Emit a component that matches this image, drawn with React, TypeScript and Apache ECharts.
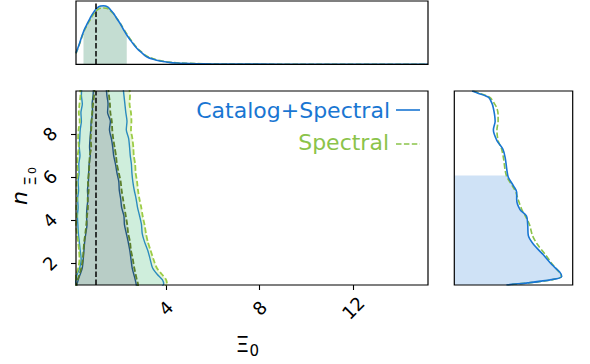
import React, { useEffect, useRef } from 'react';
import * as echarts from 'echarts';

// ---------------- data ----------------
// 1D marginal of Xi_0 (top panel)
const XI_GRID = [0.15, 0.3, 0.47, 0.6, 0.75, 0.9, 1.04, 1.2, 1.32, 1.45, 1.53, 1.65, 1.75, 1.9, 2.03, 2.18, 2.32, 2.5, 2.75, 3.0, 3.17, 3.45, 3.74, 4.1, 4.46, 5.0, 5.59, 6.5, 8, 10, 12, 15.2];
const XI_PDF_CATSPEC = [0.18, 0.33, 0.515, 0.62, 0.727, 0.82, 0.885, 0.92, 0.926, 0.915, 0.9, 0.85, 0.806, 0.72, 0.648, 0.55, 0.463, 0.37, 0.253, 0.17, 0.12, 0.08, 0.052, 0.032, 0.02, 0.013, 0.008, 0.004, 0.002, 0.001, 0.0005, 0];
const XI_PDF_SPEC = [0.17, 0.32, 0.5, 0.6, 0.7, 0.79, 0.85, 0.885, 0.89, 0.885, 0.875, 0.835, 0.8, 0.725, 0.655, 0.565, 0.48, 0.385, 0.265, 0.18, 0.13, 0.088, 0.058, 0.036, 0.024, 0.015, 0.009, 0.005, 0.002, 0.001, 0.0005, 0];
const XI_CI = [0.47, 2.35];
const XI_TRUTH = 1.0;

// 1D marginal of n (right panel)
const N_MARG_GRID = [10.0, 9.9, 9.7, 9.4, 9.2, 8.9, 8.6, 8.2, 7.7, 7.3, 6.9, 6.3, 6.0, 5.6, 5.3, 4.95, 4.5, 4.2, 3.8, 3.3, 2.9, 2.4, 1.95, 1.6, 1.4, 1.25, 1.1, 1.03, 1.0];
const N_PDF_CATSPEC = [0.15, 0.2, 0.29, 0.32, 0.33, 0.34, 0.345, 0.33, 0.36, 0.41, 0.43, 0.445, 0.456, 0.5, 0.527, 0.527, 0.555, 0.61, 0.62, 0.625, 0.667, 0.752, 0.823, 0.89, 0.907, 0.82, 0.62, 0.48, 0.44];
const N_PDF_SPEC = [0.16, 0.21, 0.3, 0.34, 0.36, 0.37, 0.37, 0.36, 0.37, 0.4, 0.415, 0.43, 0.445, 0.49, 0.52, 0.54, 0.57, 0.6, 0.635, 0.66, 0.7, 0.77, 0.83, 0.885, 0.905, 0.83, 0.63, 0.49, 0.45];
const N_CI = [1.0, 6.08];

// 2D contours (Xi_0 position of each contour edge at given n)
const N_CONTOUR = [10.2, 9.8, 9.4, 9.0, 8.6, 8.2, 7.8, 7.4, 7.0, 6.6, 6.2, 5.8, 5.4, 5.0, 4.6, 4.2, 3.8, 3.4, 3.0, 2.6, 2.2, 1.8, 1.5, 1.25, 1.05, 0.9];
const CS_OUTER_LEFT = [0.4, 0.38, 0.42, 0.36, 0.38, 0.33, 0.31, 0.29, 0.32, 0.27, 0.28, 0.24, 0.26, 0.22, 0.24, 0.21, 0.23, 0.25, 0.29, 0.33, 0.37, 0.31, 0.2, 0.14, 0.11, 0.1];
const CS_INNER_LEFT = [0.9, 0.88, 0.84, 0.86, 0.8, 0.78, 0.75, 0.73, 0.76, 0.71, 0.69, 0.68, 0.64, 0.66, 0.62, 0.6, 0.62, 0.57, 0.52, 0.49, 0.46, 0.42, 0.33, 0.25, 0.2, 0.18];
const CS_INNER_RIGHT = [1.44, 1.47, 1.52, 1.5, 1.62, 1.58, 1.66, 1.72, 1.76, 1.84, 1.9, 1.98, 2.0, 2.06, 2.1, 2.2, 2.22, 2.3, 2.38, 2.45, 2.5, 2.55, 2.62, 2.68, 2.72, 2.74];
const CS_OUTER_RIGHT = [2.16, 2.2, 2.24, 2.28, 2.33, 2.3, 2.4, 2.44, 2.47, 2.52, 2.54, 2.58, 2.64, 2.72, 2.78, 2.87, 2.95, 2.98, 3.08, 3.22, 3.32, 3.42, 3.62, 3.84, 3.9, 3.8];
const SP_OUTER_LEFT = [0.32, 0.34, 0.3, 0.27, 0.31, 0.26, 0.24, 0.27, 0.22, 0.2, 0.23, 0.18, 0.17, 0.19, 0.16, 0.18, 0.15, 0.19, 0.24, 0.28, 0.3, 0.25, 0.16, 0.11, 0.08, 0.07];
const SP_INNER_LEFT = [0.95, 0.92, 0.88, 0.84, 0.82, 0.8, 0.78, 0.8, 0.74, 0.72, 0.7, 0.66, 0.69, 0.65, 0.66, 0.62, 0.59, 0.55, 0.5, 0.47, 0.44, 0.38, 0.3, 0.22, 0.17, 0.15];
const SP_INNER_RIGHT = [1.52, 1.56, 1.6, 1.62, 1.68, 1.7, 1.74, 1.8, 1.86, 1.9, 1.98, 2.06, 2.1, 2.16, 2.22, 2.28, 2.34, 2.38, 2.46, 2.5, 2.58, 2.64, 2.7, 2.75, 2.8, 2.8];
const SP_OUTER_RIGHT = [2.42, 2.46, 2.44, 2.5, 2.52, 2.5, 2.56, 2.6, 2.62, 2.68, 2.7, 2.76, 2.8, 2.86, 2.94, 3.0, 3.08, 3.14, 3.22, 3.34, 3.46, 3.6, 3.82, 4.0, 4.04, 3.95];

const X_TICKS = [4, 8, 12];
const Y_TICKS = [2, 4, 6, 8];
const LEGEND_LABELS = ['Catalog+Spectral', 'Spectral'];

// ---------------- style / layout ----------------
const BLUE = '#1976D2';
const GREEN = '#8BC34A';
const FONT = '"DejaVu Sans"';

const TOP = { left: 76, top: 1, width: 352, height: 63.3 };
const MAIN = { left: 76, top: 91, width: 352, height: 194 };
const SIDE = { left: 454.3, top: 91, width: 118.4, height: 194 };

const XI_RANGE = [0.15, 15.2];
const N_RANGE = [1, 10];

const DASH = [5.5, 2.4];

function pairs(xs: number[], ys: number[]) {
  return xs.map((x, i) => [x, ys[i]]);
}

function polygonSeries(gi: number, pts: number[][], color: string, z: number) {
  return {
    type: 'custom',
    xAxisIndex: gi,
    yAxisIndex: gi,
    clip: true,
    silent: true,
    z,
    data: [[pts[0][0], pts[0][1]]],
    renderItem: (_params: any, api: any) => ({
      type: 'polygon',
      shape: { points: pts.map((p) => api.coord(p)) },
      style: { fill: color, stroke: 'none' },
    }),
  };
}

function lineSeries(gi: number, data: number[][], color: string, width: number, dashed: boolean, z: number, smooth: number | boolean = 0.25) {
  return {
    type: 'line',
    xAxisIndex: gi,
    yAxisIndex: gi,
    data,
    symbol: 'none',
    showSymbol: false,
    smooth,
    silent: true,
    z,
    lineStyle: { color, width, type: dashed ? DASH : 'solid' },
  };
}

function frame(r: { left: number; top: number; width: number; height: number }) {
  return {
    type: 'rect',
    z: 100,
    silent: true,
    shape: { x: r.left, y: r.top, width: r.width, height: r.height },
    style: { fill: 'none', stroke: '#000', lineWidth: 1.2 },
  };
}

function txt(x: number, y: number, text: string, font: string, color: string, align: string, rotation = 0) {
  return {
    type: 'text',
    z: 101,
    silent: true,
    x,
    y,
    rotation,
    style: {
      text,
      font,
      fill: color,
      align,
      verticalAlign: 'middle',
      textAlign: align,
      textVerticalAlign: 'middle',
    },
  };
}

export default function App() {
  const ref = useRef<HTMLDivElement>(null);

  useEffect(() => {
    const chart = echarts.init(ref.current as HTMLDivElement, null, { renderer: 'svg' });

    // contour polygons
    const csOuter = [...pairs(CS_OUTER_LEFT, N_CONTOUR), ...pairs(CS_OUTER_RIGHT, N_CONTOUR).reverse()];
    const csInner = [...pairs(CS_INNER_LEFT, N_CONTOUR), ...pairs(CS_INNER_RIGHT, N_CONTOUR).reverse()];
    const spOuter = [...pairs(SP_OUTER_LEFT, N_CONTOUR), ...pairs(SP_OUTER_RIGHT, N_CONTOUR).reverse()];
    const spInner = [...pairs(SP_INNER_LEFT, N_CONTOUR), ...pairs(SP_INNER_RIGHT, N_CONTOUR).reverse()];

    // top-panel credible band
    const xiBand = XI_GRID.map((x, i) => [x, XI_PDF_CATSPEC[i]]).filter((p) => p[0] >= XI_CI[0] && p[0] <= XI_CI[1]);

    // side-panel credible band polygon
    const nIn = N_MARG_GRID.map((n, i) => [N_PDF_CATSPEC[i], n]).filter((p) => p[1] <= N_CI[1] && p[1] >= N_CI[0]);
    const nBand = [[0, N_CI[1]], [nIn[0][0], N_CI[1]], ...nIn, [0, N_CI[0]]];

    const truthMark = {
      symbol: 'none',
      silent: true,
      label: { show: false },
      lineStyle: { color: '#000', type: DASH, width: 1.5 },
      data: [{ xAxis: XI_TRUTH }],
    };

    const hiddenAxis = (gi: number, min: number, max: number) => ({
      gridIndex: gi,
      type: 'value',
      min,
      max,
      axisLine: { show: false },
      axisTick: { show: false },
      axisLabel: { show: false },
      splitLine: { show: false },
    });

    const tickLabel = {
      rotate: 45,
      align: 'center',
      verticalAlign: 'middle',
      fontSize: 18,
      color: '#000',
      fontFamily: 'DejaVu Sans',
    };

    const option: any = {
      animation: false,
      backgroundColor: '#fff',
      grid: [
        { ...TOP, show: false },
        { ...MAIN, show: false },
        { ...SIDE, show: false },
      ],
      xAxis: [
        hiddenAxis(0, XI_RANGE[0], XI_RANGE[1]),
        {
          gridIndex: 1,
          type: 'value',
          min: XI_RANGE[0],
          max: XI_RANGE[1],
          axisLine: { show: false },
          splitLine: { show: false },
          axisTick: { show: true, length: 5, customValues: X_TICKS, lineStyle: { color: '#000', width: 1.1 } },
          axisLabel: { ...tickLabel, customValues: X_TICKS, margin: 23 },
        },
        hiddenAxis(2, 0, 1),
      ],
      yAxis: [
        hiddenAxis(0, 0, 1),
        {
          gridIndex: 1,
          type: 'value',
          min: N_RANGE[0],
          max: N_RANGE[1],
          axisLine: { show: false },
          splitLine: { show: false },
          axisTick: { show: true, length: 5, customValues: Y_TICKS, lineStyle: { color: '#000', width: 1.1 } },
          axisLabel: { ...tickLabel, customValues: Y_TICKS, margin: 26 },
        },
        hiddenAxis(2, N_RANGE[0], N_RANGE[1]),
      ],
      series: [
        // ---- top panel ----
        {
          type: 'line',
          xAxisIndex: 0,
          yAxisIndex: 0,
          data: xiBand,
          symbol: 'none',
          smooth: true,
          silent: true,
          z: 1,
          lineStyle: { width: 0, color: 'transparent' },
          areaStyle: { color: '#c4ddd2', opacity: 1 },
        },
        { ...lineSeries(0, pairs(XI_GRID, XI_PDF_SPEC), GREEN, 1.6, true, 3, true) },
        { ...lineSeries(0, pairs(XI_GRID, XI_PDF_CATSPEC), BLUE, 1.6, false, 4, true), markLine: truthMark },

        // ---- main panel fills ----
        polygonSeries(1, spOuter, '#e6f5d4', 1),
        polygonSeries(1, csOuter, '#cfeedc', 1),
        polygonSeries(1, spInner, '#bcd4c2', 1),
        polygonSeries(1, csInner, '#b8cdc6', 1),
        // ---- main panel contour lines ----
        lineSeries(1, pairs(CS_OUTER_LEFT, N_CONTOUR), '#2b8cbe', 1.4, false, 3),
        lineSeries(1, pairs(CS_OUTER_RIGHT, N_CONTOUR), '#2b8cbe', 1.4, false, 3),
        lineSeries(1, pairs(SP_OUTER_LEFT, N_CONTOUR), '#9ccc45', 1.8, true, 4),
        lineSeries(1, pairs(SP_OUTER_RIGHT, N_CONTOUR), '#9ccc45', 1.8, true, 4),
        lineSeries(1, pairs(CS_INNER_LEFT, N_CONTOUR), '#23577f', 1.4, false, 5),
        lineSeries(1, pairs(CS_INNER_RIGHT, N_CONTOUR), '#23577f', 1.4, false, 5),
        lineSeries(1, pairs(SP_INNER_LEFT, N_CONTOUR), '#5b7f2a', 1.8, true, 6),
        { ...lineSeries(1, pairs(SP_INNER_RIGHT, N_CONTOUR), '#5b7f2a', 1.8, true, 6), markLine: truthMark },

        // ---- side panel ----
        polygonSeries(2, nBand, '#cfe2f6', 1),
        lineSeries(2, pairs(N_PDF_SPEC, N_MARG_GRID), GREEN, 1.6, true, 3, 0.3),
        lineSeries(2, pairs(N_PDF_CATSPEC, N_MARG_GRID), BLUE, 1.6, false, 4, 0.3),
      ],
      graphic: [
        frame(TOP),
        frame(MAIN),
        frame(SIDE),
        // legend
        txt(390, 110, LEGEND_LABELS[0], `22px ${FONT}`, BLUE, 'right'),
        { type: 'line', z: 101, silent: true, shape: { x1: 396, y1: 110, x2: 420, y2: 110 }, style: { stroke: BLUE, lineWidth: 1.6 } },
        txt(389, 142.5, LEGEND_LABELS[1], `22px ${FONT}`, GREEN, 'right'),
        { type: 'line', z: 101, silent: true, shape: { x1: 396, y1: 144, x2: 420, y2: 144 }, style: { stroke: GREEN, lineWidth: 1.6, lineDash: DASH } },
        // x axis name
        txt(242.5, 344, 'Ξ', `22px ${FONT}`, '#000', 'center'),
        txt(249.5, 351, '0', `15px ${FONT}`, '#000', 'left'),
        // y axis name (rotated)
        txt(19.5, 198, 'n', `italic 22px ${FONT}`, '#000', 'center', Math.PI / 2),
        txt(31, 181, 'Ξ', `15px ${FONT}`, '#000', 'center', Math.PI / 2),
        txt(32.5, 170.5, '0', `11px ${FONT}`, '#000', 'center', Math.PI / 2),
      ],
    };

    chart.setOption(option);
    return () => chart.dispose();
  }, []);

  return (
    <div
      ref={ref}
      style={{ position: 'absolute', left: 0, top: 0, width: 590, height: 364, background: '#fff' }}
    />
  );
}
